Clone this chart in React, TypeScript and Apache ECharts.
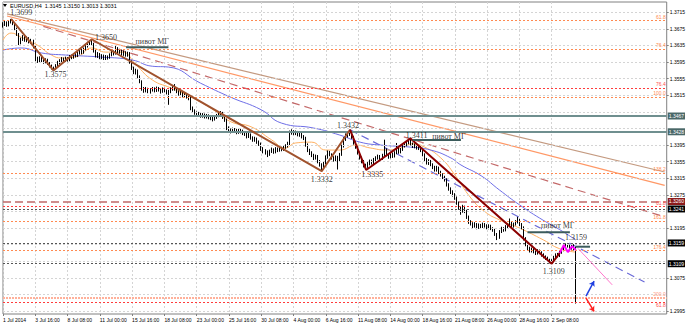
import React, { useEffect, useRef } from "react";
import * as echarts from "echarts";

// ---------- data ----------
const headerSymbol = "EURUSD,H4";
const headerOHLC = "1.3145 1.3150 1.3013 1.3031";
const firstOpen = 1.3682;

const closes = [
  1.3686, 1.3690, 1.3684, 1.3692, 1.3695, 1.3688, 1.3676, 1.3662, 1.3642, 1.3650,
  1.3655, 1.3648, 1.3652, 1.3644, 1.3646, 1.3632, 1.3602, 1.3598, 1.3604, 1.3600,
  1.3596, 1.3600, 1.3592, 1.3586, 1.3580, 1.3578, 1.3586, 1.3594, 1.3598, 1.3602,
  1.3598, 1.3604, 1.3600, 1.3608, 1.3606, 1.3612, 1.3610, 1.3616, 1.3622, 1.3618,
  1.3626, 1.3634, 1.3640, 1.3644, 1.3638, 1.3622, 1.3610, 1.3614, 1.3606, 1.3610,
  1.3604, 1.3608, 1.3606, 1.3612, 1.3618, 1.3616, 1.3628, 1.3618, 1.3622, 1.3614,
  1.3618, 1.3612, 1.3616, 1.3596, 1.3580, 1.3570, 1.3574, 1.3560, 1.3548, 1.3530,
  1.3526, 1.3530, 1.3524, 1.3528, 1.3530, 1.3526, 1.3532, 1.3528, 1.3524, 1.3530,
  1.3526, 1.3522, 1.3524, 1.3530, 1.3536, 1.3530, 1.3524, 1.3518, 1.3520, 1.3514,
  1.3516, 1.3512, 1.3508, 1.3484, 1.3478, 1.3472, 1.3468, 1.3470, 1.3466, 1.3468,
  1.3464, 1.3466, 1.3462, 1.3460, 1.3458, 1.3462, 1.3466, 1.3470, 1.3472, 1.3462,
  1.3456, 1.3436, 1.3430, 1.3428, 1.3432, 1.3430, 1.3426, 1.3430, 1.3428, 1.3424,
  1.3422, 1.3416, 1.3420, 1.3412, 1.3408, 1.3410, 1.3402, 1.3398, 1.3386, 1.3380,
  1.3378, 1.3372, 1.3380, 1.3384, 1.3378, 1.3386, 1.3382, 1.3388, 1.3384, 1.3390,
  1.3392, 1.3398, 1.3426, 1.3428, 1.3424, 1.3426, 1.3420, 1.3422, 1.3416, 1.3412,
  1.3396, 1.3382, 1.3376, 1.3370, 1.3364, 1.3368, 1.3356, 1.3348, 1.3340, 1.3352,
  1.3366, 1.3378, 1.3372, 1.3364, 1.3360, 1.3366, 1.3358, 1.3372, 1.3392, 1.3410,
  1.3418, 1.3422, 1.3426, 1.3414, 1.3400, 1.3390, 1.3376, 1.3364, 1.3356, 1.3346,
  1.3344, 1.3350, 1.3356, 1.3352, 1.3360, 1.3364, 1.3368, 1.3362, 1.3370, 1.3384,
  1.3372, 1.3366, 1.3374, 1.3368, 1.3376, 1.3390, 1.3378, 1.3384, 1.3392, 1.3396,
  1.3400, 1.3404, 1.3398, 1.3392, 1.3394, 1.3388, 1.3390, 1.3382, 1.3372, 1.3360,
  1.3352, 1.3356, 1.3348, 1.3342, 1.3336, 1.3340, 1.3330, 1.3324, 1.3318, 1.3312,
  1.3300, 1.3290, 1.3282, 1.3276, 1.3268, 1.3256, 1.3244, 1.3236, 1.3246, 1.3236,
  1.3222, 1.3210, 1.3206, 1.3200, 1.3204, 1.3196, 1.3202, 1.3198, 1.3204, 1.3200,
  1.3196, 1.3200, 1.3194, 1.3190, 1.3180, 1.3172, 1.3186, 1.3194, 1.3190, 1.3198,
  1.3202, 1.3208, 1.3200, 1.3204, 1.3210, 1.3214, 1.3204, 1.3196, 1.3170, 1.3156,
  1.3146, 1.3140, 1.3144, 1.3138, 1.3134, 1.3140, 1.3136, 1.3130, 1.3126, 1.3122,
  1.3118, 1.3114, 1.3116, 1.3124, 1.3130, 1.3128, 1.3136, 1.3142, 1.3150, 1.3156,
  1.3152, 1.3146, 1.3154, 1.3145, 1.3031,
];

const highs = [
  1.3691, 1.3694, 1.3693, 1.3696, 1.3699, 1.3697, 1.3690, 1.3678, 1.3665, 1.3654,
  1.3660, 1.3658, 1.3657, 1.3655, 1.3651, 1.3649, 1.3635, 1.3608, 1.3609, 1.3608,
  1.3605, 1.3604, 1.3603, 1.3595, 1.3589, 1.3584, 1.3590, 1.3598, 1.3602, 1.3607,
  1.3606, 1.3608, 1.3607, 1.3612, 1.3613, 1.3616, 1.3617, 1.3620, 1.3626, 1.3627,
  1.3630, 1.3638, 1.3644, 1.3648, 1.3650, 1.3641, 1.3625, 1.3619, 1.3617, 1.3614,
  1.3613, 1.3612, 1.3611, 1.3616, 1.3622, 1.3623, 1.3636, 1.3631, 1.3627, 1.3625,
  1.3623, 1.3621, 1.3620, 1.3619, 1.3599, 1.3584, 1.3579, 1.3577, 1.3563, 1.3551,
  1.3535, 1.3535, 1.3533, 1.3532, 1.3535, 1.3534, 1.3536, 1.3535, 1.3531, 1.3534,
  1.3533, 1.3529, 1.3528, 1.3534, 1.3540, 1.3542, 1.3533, 1.3527, 1.3525, 1.3523,
  1.3521, 1.3519, 1.3515, 1.3511, 1.3488, 1.3481, 1.3476, 1.3475, 1.3473, 1.3472,
  1.3471, 1.3470, 1.3469, 1.3466, 1.3464, 1.3466, 1.3470, 1.3474, 1.3477, 1.3475,
  1.3465, 1.3459, 1.3440, 1.3435, 1.3437, 1.3436, 1.3434, 1.3434, 1.3434, 1.3432,
  1.3428, 1.3425, 1.3424, 1.3423, 1.3416, 1.3415, 1.3413, 1.3406, 1.3401, 1.3390,
  1.3385, 1.3382, 1.3384, 1.3389, 1.3387, 1.3390, 1.3389, 1.3392, 1.3391, 1.3394,
  1.3397, 1.3403, 1.3430, 1.3433, 1.3431, 1.3430, 1.3429, 1.3426, 1.3424, 1.3419,
  1.3415, 1.3399, 1.3386, 1.3380, 1.3374, 1.3372, 1.3371, 1.3359, 1.3351, 1.3356,
  1.3370, 1.3382, 1.3381, 1.3375, 1.3368, 1.3370, 1.3369, 1.3376, 1.3396, 1.3414,
  1.3423, 1.3427, 1.3432, 1.3429, 1.3417, 1.3404, 1.3393, 1.3379, 1.3367, 1.3359,
  1.3350, 1.3354, 1.3360, 1.3360, 1.3364, 1.3368, 1.3372, 1.3371, 1.3374, 1.3408,
  1.3387, 1.3375, 1.3378, 1.3377, 1.3380, 1.3400, 1.3393, 1.3388, 1.3396, 1.3400,
  1.3405, 1.3408, 1.3411, 1.3401, 1.3399, 1.3397, 1.3395, 1.3393, 1.3385, 1.3375,
  1.3364, 1.3361, 1.3359, 1.3351, 1.3345, 1.3345, 1.3343, 1.3333, 1.3327, 1.3321,
  1.3315, 1.3303, 1.3293, 1.3286, 1.3279, 1.3271, 1.3259, 1.3247, 1.3251, 1.3249,
  1.3239, 1.3225, 1.3214, 1.3209, 1.3209, 1.3207, 1.3206, 1.3205, 1.3208, 1.3207,
  1.3204, 1.3204, 1.3203, 1.3197, 1.3193, 1.3183, 1.3190, 1.3198, 1.3197, 1.3202,
  1.3206, 1.3218, 1.3211, 1.3208, 1.3214, 1.3222, 1.3217, 1.3207, 1.3199, 1.3173,
  1.3159, 1.3150, 1.3148, 1.3147, 1.3142, 1.3144, 1.3143, 1.3139, 1.3134, 1.3129,
  1.3126, 1.3121, 1.3120, 1.3128, 1.3134, 1.3135, 1.3140, 1.3146, 1.3154, 1.3158,
  1.3159, 1.3155, 1.3157, 1.3156, 1.3150,
];

const lows = [
  1.3678, 1.3682, 1.3680, 1.3681, 1.3688, 1.3684, 1.3672, 1.3658, 1.3636, 1.3638,
  1.3646, 1.3644, 1.3643, 1.3640, 1.3639, 1.3628, 1.3597, 1.3593, 1.3594, 1.3595,
  1.3591, 1.3592, 1.3588, 1.3582, 1.3577, 1.3575, 1.3576, 1.3583, 1.3590, 1.3595,
  1.3594, 1.3595, 1.3596, 1.3597, 1.3602, 1.3603, 1.3606, 1.3607, 1.3613, 1.3614,
  1.3615, 1.3623, 1.3630, 1.3636, 1.3634, 1.3618, 1.3606, 1.3605, 1.3602, 1.3602,
  1.3600, 1.3600, 1.3601, 1.3603, 1.3609, 1.3611, 1.3613, 1.3614, 1.3615, 1.3610,
  1.3610, 1.3608, 1.3608, 1.3591, 1.3576, 1.3566, 1.3565, 1.3556, 1.3544, 1.3526,
  1.3521, 1.3522, 1.3520, 1.3519, 1.3524, 1.3522, 1.3523, 1.3524, 1.3519, 1.3521,
  1.3522, 1.3517, 1.3492, 1.3520, 1.3526, 1.3526, 1.3520, 1.3514, 1.3513, 1.3510,
  1.3509, 1.3507, 1.3503, 1.3479, 1.3473, 1.3468, 1.3463, 1.3463, 1.3461, 1.3461,
  1.3459, 1.3459, 1.3457, 1.3455, 1.3452, 1.3454, 1.3458, 1.3462, 1.3465, 1.3458,
  1.3451, 1.3431, 1.3425, 1.3423, 1.3424, 1.3425, 1.3421, 1.3422, 1.3423, 1.3419,
  1.3417, 1.3411, 1.3412, 1.3408, 1.3403, 1.3403, 1.3398, 1.3393, 1.3381, 1.3375,
  1.3372, 1.3366, 1.3369, 1.3376, 1.3374, 1.3375, 1.3378, 1.3379, 1.3380, 1.3381,
  1.3386, 1.3389, 1.3395, 1.3420, 1.3419, 1.3419, 1.3416, 1.3415, 1.3411, 1.3407,
  1.3391, 1.3378, 1.3371, 1.3366, 1.3359, 1.3360, 1.3351, 1.3343, 1.3332, 1.3337,
  1.3349, 1.3362, 1.3368, 1.3360, 1.3355, 1.3356, 1.3336, 1.3355, 1.3369, 1.3389,
  1.3405, 1.3413, 1.3417, 1.3410, 1.3396, 1.3386, 1.3372, 1.3360, 1.3351, 1.3341,
  1.3335, 1.3340, 1.3346, 1.3348, 1.3349, 1.3356, 1.3360, 1.3358, 1.3359, 1.3367,
  1.3368, 1.3362, 1.3363, 1.3364, 1.3365, 1.3373, 1.3374, 1.3375, 1.3381, 1.3389,
  1.3392, 1.3397, 1.3394, 1.3388, 1.3387, 1.3384, 1.3383, 1.3378, 1.3368, 1.3356,
  1.3348, 1.3347, 1.3344, 1.3337, 1.3331, 1.3331, 1.3325, 1.3319, 1.3313, 1.3307,
  1.3295, 1.3285, 1.3277, 1.3271, 1.3263, 1.3251, 1.3239, 1.3227, 1.3232, 1.3231,
  1.3217, 1.3205, 1.3201, 1.3195, 1.3196, 1.3192, 1.3193, 1.3194, 1.3195, 1.3196,
  1.3192, 1.3192, 1.3190, 1.3186, 1.3176, 1.3166, 1.3169, 1.3183, 1.3186, 1.3187,
  1.3194, 1.3199, 1.3196, 1.3196, 1.3201, 1.3206, 1.3200, 1.3192, 1.3165, 1.3151,
  1.3141, 1.3136, 1.3136, 1.3134, 1.3130, 1.3131, 1.3132, 1.3126, 1.3122, 1.3118,
  1.3114, 1.3110, 1.3109, 1.3113, 1.3120, 1.3124, 1.3125, 1.3133, 1.3139, 1.3147,
  1.3148, 1.3142, 1.3143, 1.3141, 1.3013,
];

const slotCount = 330;
const labelStep = 16;
const xTickLabels = [
  "1 Jul 2014", "3 Jul 16:00", "8 Jul 08:00", "11 Jul 00:00", "15 Jul 16:00",
  "18 Jul 08:00", "23 Jul 00:00", "25 Jul 16:00", "30 Jul 08:00", "4 Aug 00:00",
  "6 Aug 16:00", "11 Aug 08:00", "14 Aug 00:00", "18 Aug 16:00", "21 Aug 08:00",
  "26 Aug 00:00", "28 Aug 16:00", "2 Sep 08:00",
];
const yLabelValues = [
  1.3715, 1.3675, 1.3635, 1.3595, 1.3555, 1.3515, 1.3395, 1.3355, 1.3315,
  1.3275, 1.3195, 1.3075, 1.2995,
];
const yGridValues = [
  1.3715, 1.3675, 1.3635, 1.3595, 1.3555, 1.3515, 1.3475, 1.3435, 1.3395, 1.3355,
  1.3315, 1.3275, 1.3235, 1.3195, 1.3155, 1.3115, 1.3075, 1.3035, 1.2995,
];
const yMin = 1.29878;
const yMax = 1.37398;

const orangeMA = [
  [0, 1.3648], [4, 1.3665], [9, 1.3655], [17, 1.3636], [24, 1.3612], [29, 1.3605],
  [37, 1.3609], [44, 1.3629], [51, 1.3619], [59, 1.3619], [66, 1.3588], [74, 1.3552],
  [83, 1.3533], [93, 1.3511], [103, 1.3484], [113, 1.3451], [123, 1.3439], [133, 1.3408],
  [140, 1.3388], [145, 1.3400], [153, 1.3402], [160, 1.3383], [167, 1.3383], [175, 1.3395],
  [182, 1.3388], [190, 1.3383], [197, 1.3388], [203, 1.3398], [209, 1.3390], [217, 1.3364],
  [224, 1.3323], [232, 1.3267], [239, 1.3234], [246, 1.3215], [256, 1.3195], [268, 1.3166],
  [276, 1.3145], [284, 1.3137],
];
const blueMA = [
  [0, 1.3624], [9, 1.3629], [19, 1.3617], [31, 1.3612], [49, 1.3607], [64, 1.3600],
  [74, 1.3585], [82, 1.3583], [98, 1.3544], [113, 1.3510], [128, 1.3480], [138, 1.3448],
  [154, 1.3436], [167, 1.3419], [177, 1.3402], [187, 1.3395], [202, 1.3390], [212, 1.3383],
  [222, 1.3364], [227, 1.3347], [237, 1.3321], [246, 1.3287], [256, 1.3251], [266, 1.3219],
  [276, 1.3191], [284, 1.3166],
];

const zigzagBrown = [[4, 1.3699], [25, 1.3575], [44, 1.3650], [158, 1.3332], [172, 1.3432]];
const zigzagRed = [[172, 1.3432], [180, 1.3335], [202, 1.3411], [272, 1.3109], [276, 1.3135]];
const zigzagMagenta = [[276, 1.3135], [278, 1.3154], [280, 1.3137], [282, 1.3151], [284, 1.3142]];

const trendTan = [[2, 1.3711], [328, 1.3330]];
const trendOrange = [[2, 1.3706], [328, 1.3298]];
const trendDashed = [[20, 1.3681], [328, 1.3222]];
const trendBlueDashed = [[172, 1.3432], [318, 1.3065]];
const trendPink = [[285, 1.3146], [302, 1.3058]];

// horizontal levels: price, kind, text
const levelPrices = [
  1.3696, 1.3627, 1.3533, 1.3511, 1.3465, 1.3427, 1.3328, 1.3259, 1.3248, 1.3241,
  1.3212, 1.3159, 1.3142, 1.3109, 1.3027, 1.3017,
];
const levelKinds = [
  "fib", "fib", "fibRed", "fib", "pivot", "pivot", "fib", "res", "fibRed", "mark",
  "fib", "mark", "fib", "mark", "fibSalmon", "fibRed",
];
const levelTexts = [
  "61.8", "76.4", "76.4", "100.0", "1.3467", "1.3428", "138.2", "1.3260", "61.8", "1.3241",
  "161.8", "1.3159", "176.4", "1.3109", "200.0", "61.8",
];
const currentPrice = 1.3031;
const currentPriceText = "1.3031";

const noteTexts = [
  "1.3699", "1.3650", "1.3575", "пивот МГ", "1.3432", "1.3332", "1.3335",
  "1.3411", "пивот МГ", "пивот МГ", "1.3109", "1.3159",
];
const noteBars = [9, 51, 26, 74, 171, 158, 183, 205, 221, 275, 273, 284];
const notePrices = [
  1.3714, 1.3655, 1.3564, 1.3644, 1.3441, 1.3313, 1.3323, 1.3417, 1.3415, 1.3202,
  1.3091, 1.3173,
];

const pivotStart = [61, 203, 260, 284];
const pivotEnd = [82, 227, 281, 291];
const pivotPrice = [1.3631, 1.3407, 1.3185, 1.3150];

const arrowUpFrom = [289, 1.3031];
const arrowUpTo = [293, 1.3067];
const arrowDownFrom = [289, 1.3026];
const arrowDownTo = [293, 1.2994];

// ---------- styles ----------
const LEVEL_STYLE: Record<string, any> = {
  fib: { color: "#ff8a50", type: [2, 2], width: 1, label: "#ff8a50" },
  fibRed: { color: "#ff3b3b", type: [2, 2], width: 1, label: "#ff5050" },
  fibSalmon: { color: "#ffb09a", type: [2, 1], width: 2, label: "#ff9a80" },
  pivot: { color: "#6f8f8f", type: "solid", width: 2, box: "#4a6868" },
  res: { color: "#c06a6a", type: [8, 4], width: 1.5, box: "#8c1c1c" },
  mark: { color: "#555555", type: [2, 2], width: 1, box: "#000000" },
};

export default function App() {
  const ref = useRef<HTMLDivElement>(null);

  useEffect(() => {
    if (!ref.current) return;
    const chart = echarts.init(ref.current, undefined, { renderer: "svg" });

    const categories = Array.from({ length: slotCount }, (_, i) => String(i));
    const candles = closes.map((c, i) => [
      i === 0 ? firstOpen : closes[i - 1],
      c,
      lows[i],
      highs[i],
    ]);

    const showTick = (i: number) => i % labelStep === 0 && i / labelStep < xTickLabels.length;

    const smallFont = { fontSize: 5, fontFamily: "Liberation Sans, Arial, sans-serif" };
    const serifFont = { fontSize: 8, fontFamily: "Liberation Serif, Times New Roman, serif" };

    const levelMarks: any[] = levelPrices.map((p, i) => {
      const st = LEVEL_STYLE[levelKinds[i]];
      const boxed = !!st.box;
      const isBottomRed = i === levelPrices.length - 1;
      return {
        yAxis: p,
        lineStyle: { color: st.color, type: st.type, width: st.width },
        label: boxed
          ? {
              show: true,
              position: "end",
              distance: 1,
              formatter: levelTexts[i],
              color: "#ffffff",
              backgroundColor: st.box,
              padding: [1, 1, 1, 1],
              ...smallFont,
            }
          : {
              show: true,
              position: isBottomRed ? "insideEndBottom" : "insideEndTop",
              distance: 1,
              formatter: levelTexts[i],
              color: st.label,
              ...smallFont,
            },
      };
    });
    levelMarks.push({
      yAxis: currentPrice,
      lineStyle: { width: 0, opacity: 0 },
      label: {
        show: true,
        position: "end",
        distance: 1,
        formatter: currentPriceText,
        color: "#ffffff",
        backgroundColor: "#000000",
        padding: [1, 1, 1, 1],
        ...smallFont,
      },
    });

    const lineSeries = (data: number[][], color: string, width: number, type: any = "solid", z = 3, smooth = false) => ({
      type: "line",
      data,
      showSymbol: false,
      symbol: "none",
      smooth,
      silent: true,
      z,
      lineStyle: { color, width, type },
    });

    const pivotSeries = pivotStart.map((s, i) =>
      lineSeries([[s, pivotPrice[i]], [pivotEnd[i], pivotPrice[i]]], "#3c5c5c", 2, "solid", 6)
    );

    chart.setOption({
      animation: false,
      backgroundColor: "#ffffff",
      grid: {
        left: 2,
        right: 20,
        top: 2,
        bottom: 10,
        show: true,
        borderColor: "#808080",
        borderWidth: 1,
        backgroundColor: "#ffffff",
      },
      xAxis: {
        type: "category",
        data: categories,
        boundaryGap: false,
        axisLine: { show: false },
        axisTick: { show: true, interval: (i: number) => showTick(i), length: 2, lineStyle: { color: "#808080" } },
        axisLabel: {
          show: true,
          interval: (i: number) => showTick(i),
          formatter: (_v: string, i: number) => xTickLabels[i / labelStep] ?? "",
          align: "left",
          margin: 3,
          color: "#000000",
          ...smallFont,
        },
        splitLine: {
          show: true,
          interval: (i: number) => showTick(i),
          lineStyle: { color: "#d4d4d4", type: [2, 2], width: 1 },
        },
      },
      yAxis: {
        type: "value",
        position: "right",
        min: yMin,
        max: yMax,
        scale: true,
        axisLine: { show: false },
        axisTick: { show: true, customValues: yLabelValues, length: 2, lineStyle: { color: "#808080" } },
        axisLabel: {
          show: true,
          customValues: yLabelValues,
          formatter: (v: number) => v.toFixed(4),
          margin: 3,
          color: "#000000",
          ...smallFont,
        },
        splitLine: { show: false },
      },
      graphic: [
        {
          type: "polygon",
          shape: { points: [[3, 4], [7, 4], [5, 7]] },
          style: { fill: "#000000" },
          z: 100,
        },
        {
          type: "text",
          left: 10,
          top: 3,
          style: {
            text: headerSymbol + "  " + headerOHLC,
            fill: "#000000",
            fontSize: 5.5,
            fontFamily: "Liberation Sans, Arial, sans-serif",
          },
          z: 100,
        },
      ],
      series: [
        {
          type: "line",
          data: [],
          silent: true,
          z: 0,
          markLine: {
            silent: true,
            precision: 6,
            symbol: ["none", "none"],
            animation: false,
            label: { show: false },
            lineStyle: { color: "#d4d4d4", type: [2, 2], width: 1 },
            data: yGridValues.map((v) => ({ yAxis: v })),
          },
        },
        {
          type: "line",
          data: [],
          silent: true,
          z: 2,
          markLine: {
            silent: true,
            precision: 6,
            symbol: ["none", "none"],
            animation: false,
            data: levelMarks,
          },
        },
        lineSeries(trendTan, "#c49a80", 1.2),
        lineSeries(trendOrange, "#ff9866", 1.2),
        lineSeries(trendDashed, "#c46a6a", 1.2, [8, 5]),
        lineSeries(trendBlueDashed, "#6a6ad8", 1.2, [8, 5]),
        lineSeries(orangeMA, "#ffb060", 1, "solid", 3, true),
        lineSeries(blueMA, "#6e6ee6", 1, "solid", 3, true),
        {
          type: "candlestick",
          data: candles,
          barWidth: 1.2,
          z: 4,
          silent: true,
          itemStyle: {
            color: "#000000",
            color0: "#000000",
            borderColor: "#000000",
            borderColor0: "#000000",
            borderWidth: 1,
          },
        },
        lineSeries(zigzagBrown, "#a0522d", 2, "solid", 5),
        lineSeries(zigzagRed, "#8b0000", 2, "solid", 5),
        lineSeries(zigzagMagenta, "#ff00ff", 2, "solid", 5),
        lineSeries(trendPink, "#ff77cc", 1, "solid", 5),
        ...pivotSeries,
        {
          type: "line",
          data: [],
          silent: true,
          z: 6,
          markLine: {
            silent: true,
            precision: 6,
            animation: false,
            symbol: ["none", "arrow"],
            symbolSize: 5,
            label: { show: false },
            data: [
              [
                { coord: arrowUpFrom, lineStyle: { color: "#1f3fe0", width: 1.5, type: "solid" } },
                { coord: arrowUpTo },
              ],
              [
                { coord: arrowDownFrom, lineStyle: { color: "#ff1f1f", width: 1.5, type: "solid" } },
                { coord: arrowDownTo },
              ],
            ],
          },
        },
        {
          type: "scatter",
          silent: true,
          z: 7,
          symbolSize: 0,
          data: noteTexts.map((t, i) => ({
            value: [noteBars[i], notePrices[i]],
            label: {
              show: true,
              position: "inside",
              formatter: t,
              color: "#000000",
              ...serifFont,
            },
          })),
        },
      ],
    });

    return () => chart.dispose();
  }, []);

  return (
    <div
      ref={ref}
      style={{ position: "fixed", left: 0, top: 0, width: 688, height: 324, background: "#fff" }}
    />
  );
}
